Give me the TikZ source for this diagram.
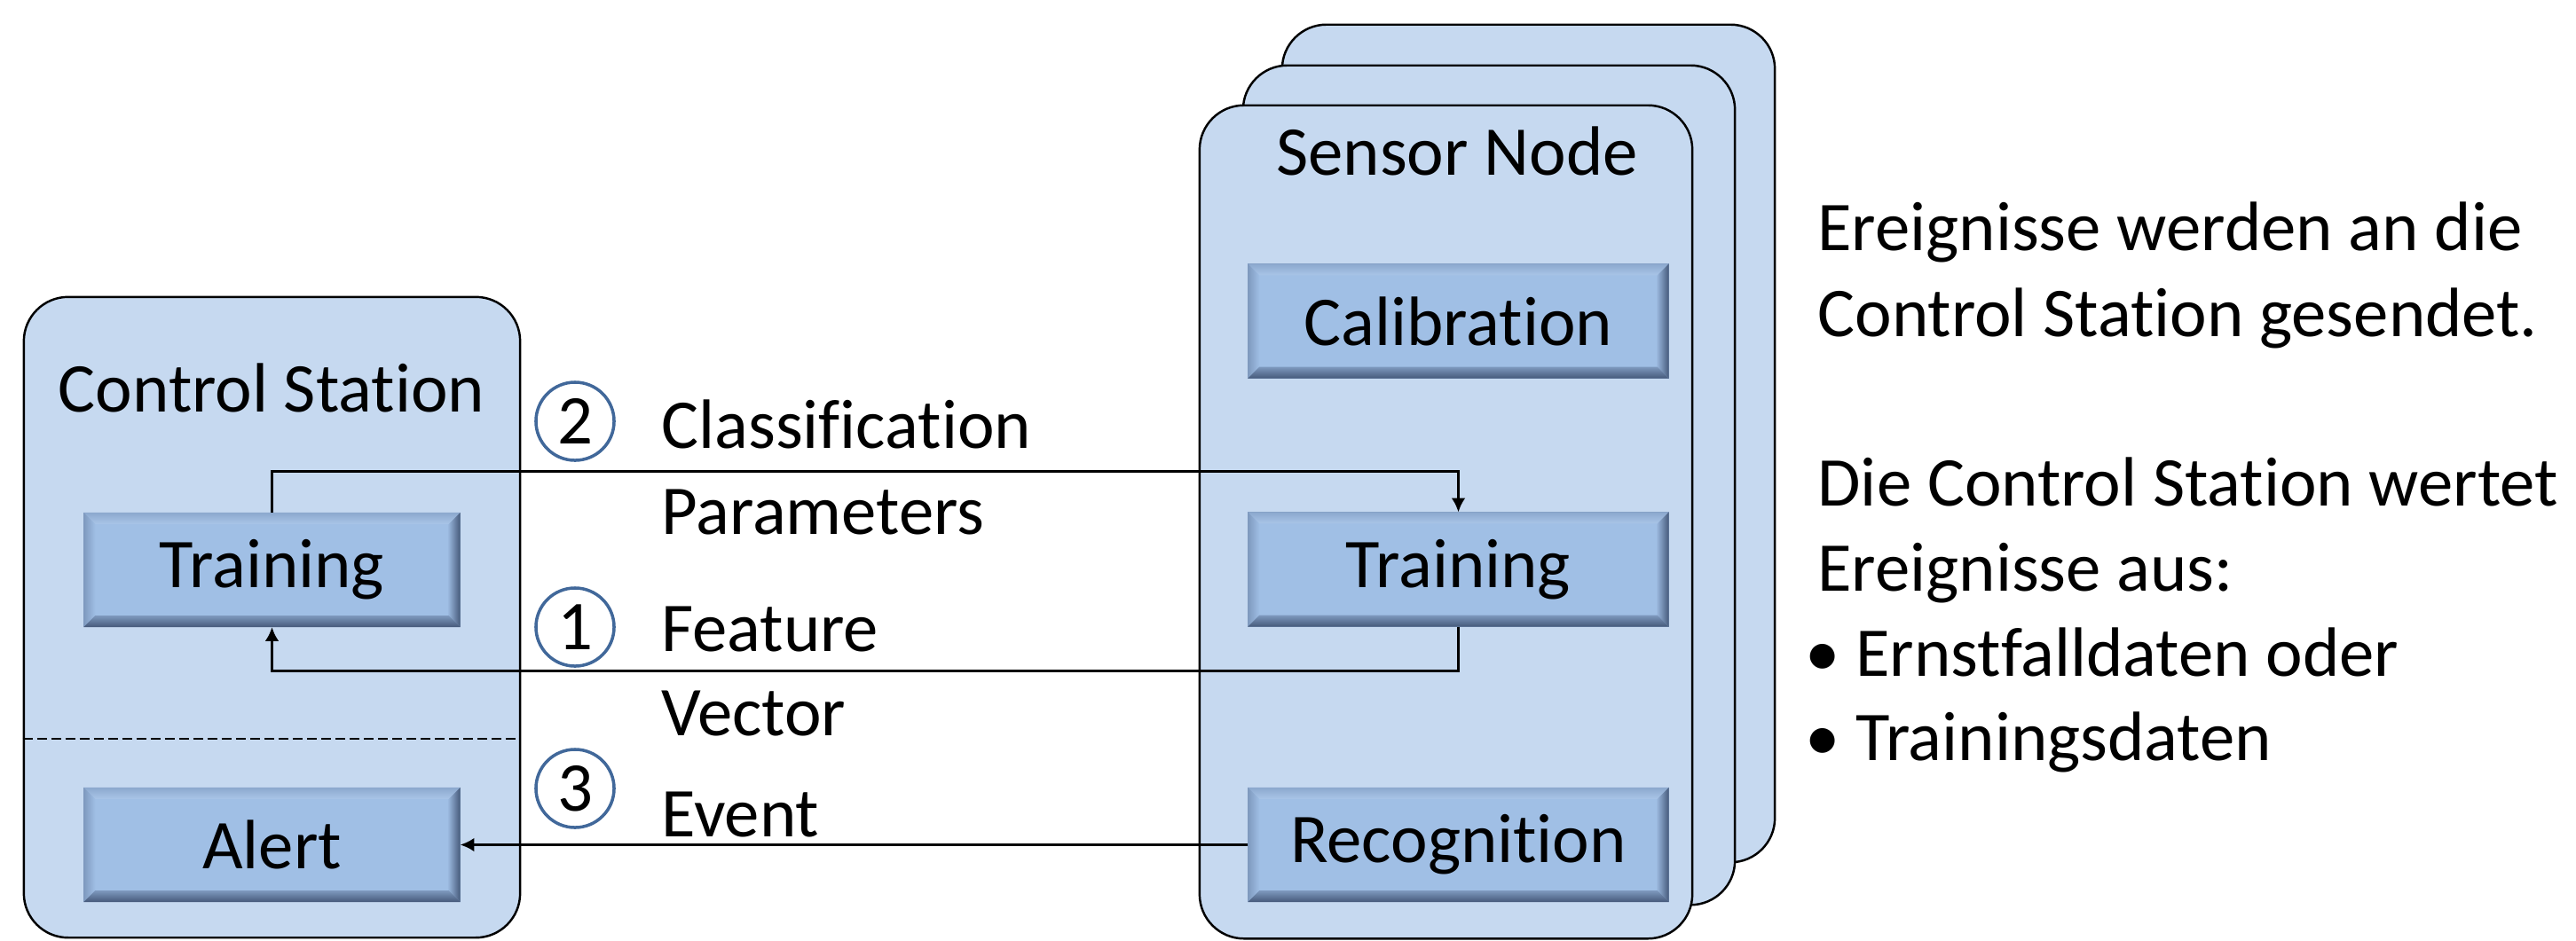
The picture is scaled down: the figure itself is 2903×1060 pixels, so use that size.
\documentclass[tikz,border=0pt]{standalone}
\usepackage{fontspec}
\setmainfont[Ligatures=NoCommon]{Carlito}
\usetikzlibrary{arrows.meta}

\definecolor{cardblue}{HTML}{C6D9F0}
\definecolor{boxblue}{HTML}{A0BFE5}
\definecolor{bevlight}{HTML}{DDF4FD}
\definecolor{bevmid}{HTML}{7E99BE}
\definecolor{bevdark}{HTML}{45597A}
\definecolor{circblue}{HTML}{41689A}

\tikzset{
    card/.style={draw, line width=0.7pt, fill=cardblue, rounded corners=0.5cm, inner sep=0pt},
    modbox/.style={fill=boxblue, draw=bevmid, line width=0.3pt, minimum width=4.73cm, minimum height=1.28cm, inner sep=0pt},
    txt/.style={anchor=base west, inner sep=0pt},
    num/.style={circle, draw=circblue, line width=1pt, minimum size=0.88cm, inner sep=0pt},
}
\def\bevw{0.13cm}

\begin{document}
\begin{tikzpicture}[x=0.01cm, y=-0.01cm, >={Latex[length=4.5pt,width=4.5pt]}, line width=0.85pt,
    font=\fontsize{22.4}{27.3}\selectfont]
    \useasboundingbox (0,0) rectangle (2903,1060);

    % control station
    \node[card, minimum width=5.59cm, minimum height=7.22cm] (ctrl) at (306.5,696) {};
    \node[anchor=base, inner sep=0pt] (ctrltitle) at (306,464) {Control Station};
    \draw[line width=0.6pt, dash pattern=on 0.11cm off 0.05cm] (ctrl.west |- 0,833) -- (ctrl.east |- 0,833);

    % sensor nodes (stack)
    \node[card, minimum width=5.55cm, minimum height=9.44cm] (sback) at (1722.5,500) {};
    \node[card, minimum width=5.54cm, minimum height=9.46cm] (smid) at (1678,547) {};
    \node[card, minimum width=5.55cm, minimum height=9.39cm] (sfront) at (1629.5,588.5) {};
    \node[anchor=base, inner sep=0pt] (sensortitle) at (1642,197) {Sensor Node};

    % modules
    \node[modbox, minimum width=4.23cm] (ctrain) at (306.5,642.5) {Training};
    \node[modbox, minimum width=4.23cm] (alert) at (306.5,952.5) {Alert};
    \node[modbox] (calib) at (1643.5,362) {Calibration};
    \node[modbox] (strain) at (1643.5,642) {Training};
    \node[modbox] (recog) at (1643.5,952.5) {Recognition};

    %% bevel
    \foreach \n in {ctrain, alert, calib, strain, recog} {
        \shade[top color=bevmid!60!boxblue, middle color=bevlight, bottom color=boxblue!90!white]
            (\n.north west) -- (\n.north east) -- ([shift={(-\bevw,-\bevw)}]\n.north east)
            -- ([shift={(\bevw,-\bevw)}]\n.north west) -- cycle;
        \shade[left color=bevmid, right color=boxblue]
            (\n.north west) -- ([shift={(\bevw,-\bevw)}]\n.north west)
            -- ([shift={(\bevw,\bevw)}]\n.south west) -- (\n.south west) -- cycle;
        \shade[left color=boxblue!70!bevmid, right color=bevdark]
            (\n.north east) -- ([shift={(-\bevw,-\bevw)}]\n.north east)
            -- ([shift={(-\bevw,\bevw)}]\n.south east) -- (\n.south east) -- cycle;
        \shade[top color=bevmid, bottom color=bevdark]
            (\n.south west) -- ([shift={(\bevw,\bevw)}]\n.south west)
            -- ([shift={(-\bevw,\bevw)}]\n.south east) -- (\n.south east) -- cycle;
    }

    % messages
    \node[num] (n2) at (648,475) {2};
    \node[num] (n1) at (648,707) {1};
    \node[num] (n3) at (648,889) {3};
    \node[txt] (lclass) at (744,505) {Classification};
    \node[txt] (lparam) at (744,602) {Parameters};
    \node[txt] (lfeat) at (744,734) {Feature};
    \node[txt] (lvec) at (744,829) {Vector};
    \node[txt] (levent) at (744,943) {Event};

    \draw[->] (ctrain.north) -- ++(0,-46) -| (strain.north);
    \draw[->] (strain.south) -- ++(0,50) -| (ctrain.south);
    \draw[->] (recog.west) -- (alert.east);

    % explanation
    \foreach \t/\yy in {Ereignisse werden an die/282, Control Station gesendet./379,
                        Die Control Station wertet/570, Ereignisse aus:/666} {
        \node[txt] (r\yy) at (2047,\yy) {\t};
    }
    \node[anchor=base, inner sep=0pt] (b1) at (2054,762) {\textbullet};
    \node[txt] (e1) at (2090,762) {Ernstfalldaten oder};
    \node[anchor=base, inner sep=0pt] (b2) at (2054,857) {\textbullet};
    \node[txt] (e2) at (2090,857) {Trainingsdaten};
\end{tikzpicture}
\end{document}
